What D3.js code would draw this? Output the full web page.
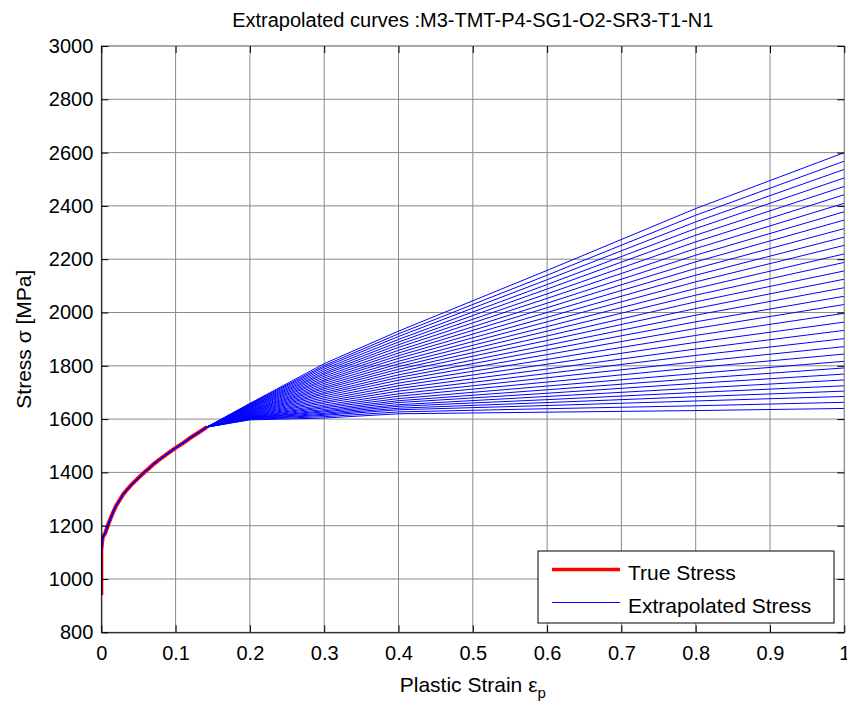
<!DOCTYPE html>
<html>
<head>
<meta charset="utf-8">
<script src="https://cdn.jsdelivr.net/npm/d3@7"></script>
<style>
  body { margin: 0; background: #fff; }
  svg { display: block; font-family: "Liberation Sans", Arial, sans-serif; }
</style>
</head>
<body>
<svg id="chart" width="847" height="703"></svg>
<script>
// measured true stress-strain points
const trueStrain = [0, 0, 0.002, 0.005, 0.01, 0.015, 0.02, 0.03, 0.04, 0.05, 0.06, 0.07, 0.08, 0.09, 0.10, 0.11, 0.12, 0.13, 0.142];
const trueStress = [940, 1110, 1158, 1170, 1210, 1245, 1275, 1320, 1352, 1380, 1405, 1430, 1452, 1472, 1492, 1510, 1530, 1548, 1570];

// extrapolated curves: strain grid (after the last true point) and stress per curve
const extrapStrain = [0.2, 0.3, 0.4, 0.6, 0.8, 1.0];
const extrapStress = [
  [1659, 1808, 1930, 2158, 2390, 2600],
  [1657, 1801, 1920, 2140, 2365, 2568],
  [1655, 1795, 1910, 2123, 2340, 2537],
  [1653, 1788, 1899, 2105, 2315, 2505],
  [1651, 1781, 1889, 2088, 2290, 2473],
  [1649, 1774, 1879, 2070, 2265, 2442],
  [1647, 1768, 1869, 2053, 2240, 2410],
  [1645, 1761, 1858, 2035, 2215, 2378],
  [1643, 1754, 1848, 2018, 2190, 2347],
  [1641, 1747, 1838, 2000, 2165, 2315],
  [1639, 1741, 1828, 1982, 2140, 2283],
  [1636, 1734, 1817, 1965, 2115, 2252],
  [1634, 1727, 1807, 1947, 2090, 2220],
  [1632, 1720, 1797, 1930, 2065, 2188],
  [1630, 1714, 1787, 1912, 2040, 2156],
  [1628, 1707, 1777, 1895, 2015, 2125],
  [1626, 1700, 1766, 1877, 1990, 2093],
  [1624, 1694, 1756, 1860, 1965, 2061],
  [1622, 1687, 1746, 1842, 1940, 2030],
  [1620, 1680, 1735, 1824, 1914, 1997],
  [1618, 1673, 1725, 1806, 1888, 1964],
  [1616, 1666, 1715, 1788, 1863, 1933],
  [1614, 1660, 1705, 1771, 1839, 1902],
  [1612, 1653, 1695, 1755, 1815, 1872],
  [1610, 1647, 1686, 1739, 1793, 1844],
  [1608, 1642, 1677, 1724, 1771, 1817],
  [1607, 1636, 1669, 1710, 1752, 1792],
  [1605, 1631, 1662, 1697, 1734, 1769],
  [1604, 1627, 1654, 1685, 1716, 1747],
  [1603, 1622, 1648, 1673, 1700, 1725],
  [1601, 1618, 1641, 1662, 1684, 1705],
  [1600, 1614, 1635, 1651, 1668, 1685],
  [1599, 1609, 1627, 1639, 1650, 1663],
  [1597, 1604, 1620, 1626, 1632, 1640]
];

const xTicks = [0, 0.1, 0.2, 0.3, 0.4, 0.5, 0.6, 0.7, 0.8, 0.9, 1];
const yTicks = [800, 1000, 1200, 1400, 1600, 1800, 2000, 2200, 2400, 2600, 2800, 3000];

const svg = d3.select('#chart');
const plotLeft = 101.3, plotRight = 844.3, plotTop = 46, plotBottom = 632.3;

const xScale = d3.scaleLinear().domain([0, 1]).range([plotLeft, plotRight]);
const yScale = d3.scaleLinear().domain([800, 3000]).range([plotBottom, plotTop]);

// grid
svg.append('g')
  .selectAll('line')
  .data(xTicks)
  .enter().append('line')
  .attr('x1', d => xScale(d)).attr('x2', d => xScale(d))
  .attr('y1', plotTop).attr('y2', plotBottom)
  .attr('stroke', '#8a8a8a').attr('stroke-width', 1);

svg.append('g')
  .selectAll('line')
  .data(yTicks)
  .enter().append('line')
  .attr('x1', plotLeft).attr('x2', plotRight)
  .attr('y1', d => yScale(d)).attr('y2', d => yScale(d))
  .attr('stroke', '#8a8a8a').attr('stroke-width', 1);

// curves
svg.append('clipPath').attr('id', 'plotClip')
  .append('rect').attr('x', plotLeft).attr('y', plotTop)
  .attr('width', plotRight - plotLeft).attr('height', plotBottom - plotTop);

const line = d3.line().x(d => xScale(d[0])).y(d => yScale(d[1]));
const truePts = trueStrain.map((s, i) => [s, trueStress[i]]);

const plot = svg.append('g').attr('clip-path', 'url(#plotClip)');

plot.append('path')
  .attr('d', line(truePts))
  .attr('fill', 'none')
  .attr('stroke', '#ff0000')
  .attr('stroke-width', 4);

plot.selectAll('path.ext')
  .data(extrapStress)
  .enter().append('path')
  .attr('class', 'ext')
  .attr('d', row => line(truePts.concat(extrapStrain.map((s, i) => [s, row[i]]))))
  .attr('fill', 'none')
  .attr('stroke', '#0000ff')
  .attr('stroke-width', 1);

// box
svg.append('line').attr('x1', plotLeft).attr('x2', plotRight).attr('y1', plotTop).attr('y2', plotTop)
  .attr('stroke', '#8a8a8a');
svg.append('line').attr('x1', plotRight).attr('x2', plotRight).attr('y1', plotTop).attr('y2', plotBottom)
  .attr('stroke', '#8a8a8a');

// axes (ticks inside, like MATLAB)
const xAxis = svg.append('g')
  .attr('transform', `translate(0,${plotBottom})`)
  .call(d3.axisBottom(xScale).tickValues(xTicks).tickFormat(d3.format('~g'))
    .tickSizeInner(-7).tickSizeOuter(0).tickPadding(14));
const yAxis = svg.append('g')
  .attr('transform', `translate(${plotLeft},0)`)
  .call(d3.axisLeft(yScale).tickValues(yTicks).tickFormat(d3.format('d'))
    .tickSizeInner(-7).tickSizeOuter(0).tickPadding(8));

// ticks on the top and right sides too
svg.append('g')
  .attr('transform', `translate(0,${plotTop})`)
  .call(d3.axisTop(xScale).tickValues(xTicks).tickFormat('').tickSizeInner(-7).tickSizeOuter(0))
  .select('.domain').remove();
svg.append('g')
  .attr('transform', `translate(${plotRight},0)`)
  .call(d3.axisRight(yScale).tickValues(yTicks).tickFormat('').tickSizeInner(-7).tickSizeOuter(0))
  .select('.domain').remove();

[xAxis, yAxis].forEach(a => {
  a.attr('font-family', null).attr('font-size', 20);
  a.selectAll('text').attr('fill', '#000');
});

// title and labels
svg.append('text')
  .attr('x', (plotLeft + plotRight) / 2).attr('y', 27)
  .attr('text-anchor', 'middle').attr('font-size', 20)
  .text('Extrapolated curves :M3-TMT-P4-SG1-O2-SR3-T1-N1');

const xLabel = svg.append('text')
  .attr('x', (plotLeft + plotRight) / 2).attr('y', 692)
  .attr('text-anchor', 'middle').attr('font-size', 21);
xLabel.append('tspan').text('Plastic Strain ε');
xLabel.append('tspan').attr('font-size', 15).attr('dy', 6).text('p');

svg.append('text')
  .attr('transform', `translate(31,${(plotTop + plotBottom) / 2}) rotate(-90)`)
  .attr('text-anchor', 'middle').attr('font-size', 21)
  .text('Stress σ [MPa]');

// legend
const legend = svg.append('g');
legend.append('rect')
  .attr('x', 538).attr('y', 551).attr('width', 296).attr('height', 72)
  .attr('fill', '#fff').attr('stroke', '#000').attr('stroke-width', 1);

const legendItems = [
  { label: 'True Stress', color: '#ff0000', width: 3.5 },
  { label: 'Extrapolated Stress', color: '#0000ff', width: 1 }
];
legendItems.forEach((it, i) => {
  const y = 569.5 + i * 33;
  legend.append('line')
    .attr('x1', 552).attr('x2', 620).attr('y1', y).attr('y2', y)
    .attr('stroke', it.color).attr('stroke-width', it.width);
  legend.append('text')
    .attr('x', 628).attr('y', y + 10).attr('font-size', 21)
    .text(it.label);
});
</script>
</body>
</html>
